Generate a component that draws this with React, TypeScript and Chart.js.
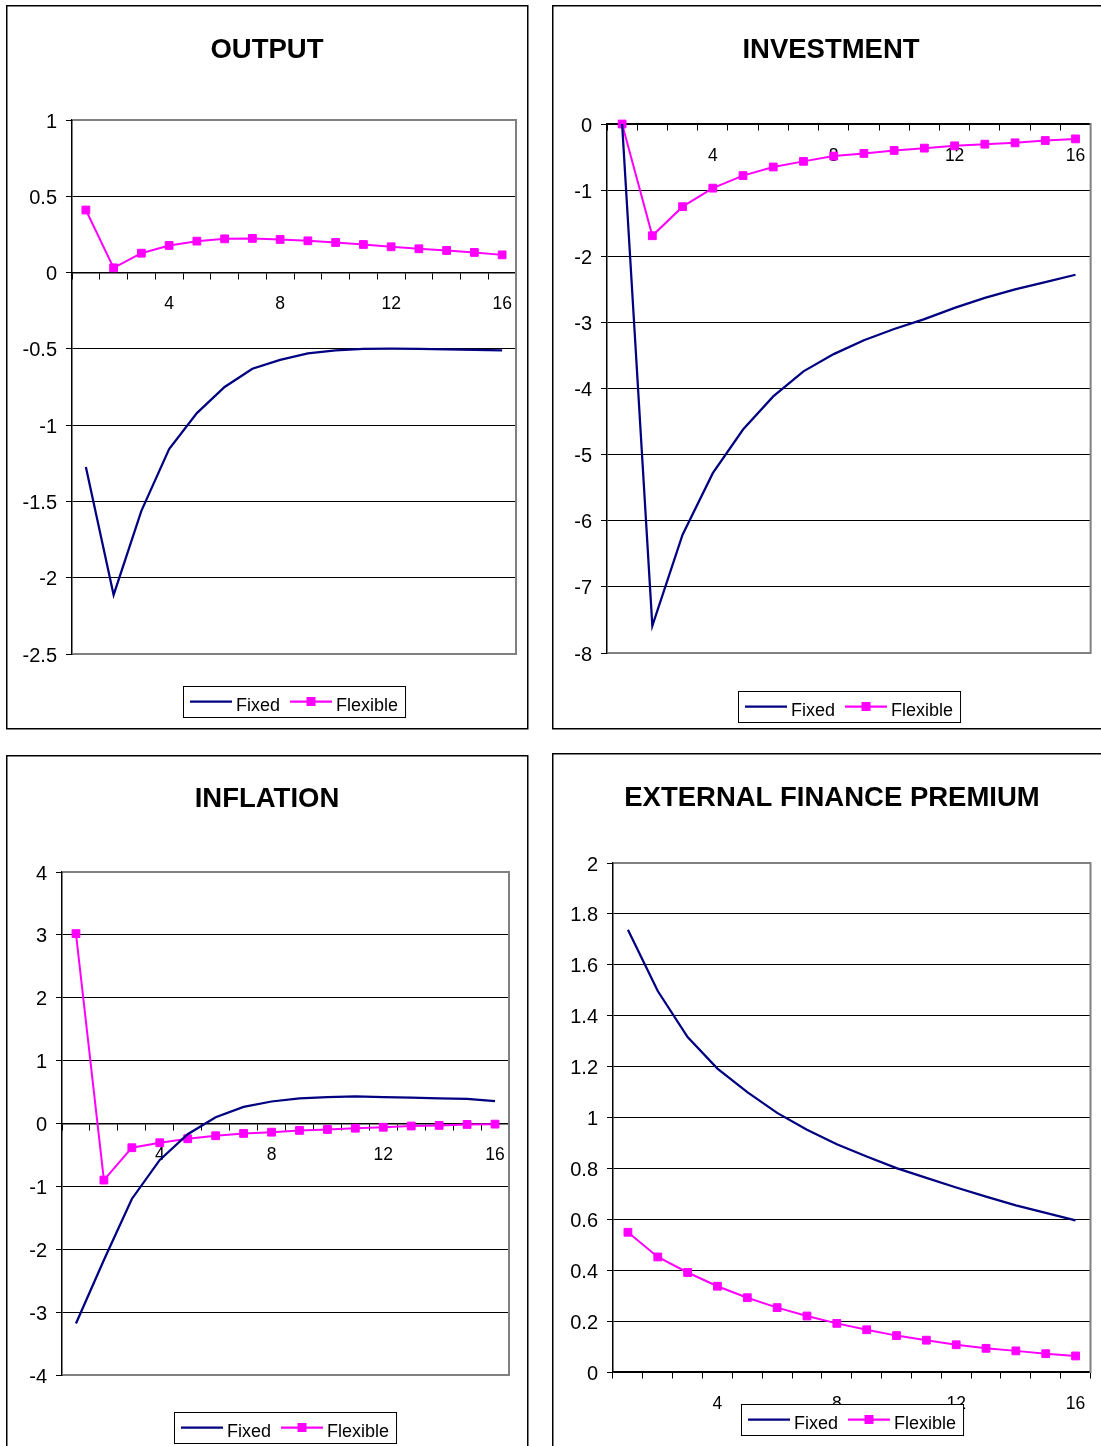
import React, { useEffect, useRef } from 'react';
import { Chart, registerables } from 'chart.js';

Chart.register(...registerables);

// ---------- data ----------
const periods = ['1', '2', '3', '4', '5', '6', '7', '8', '9', '10', '11', '12', '13', '14', '15', '16'];
const labeledPeriods = ['4', '8', '12', '16'];
const seriesNames = ['Fixed', 'Flexible'];

const outputFixed = [-1.275, -2.113, -1.562, -1.157, -0.921, -0.75, -0.63, -0.572, -0.53, -0.51, -0.5, -0.498, -0.5, -0.503, -0.507, -0.51];
const outputFlexible = [0.41, 0.031, 0.127, 0.178, 0.206, 0.221, 0.224, 0.217, 0.208, 0.197, 0.184, 0.169, 0.156, 0.145, 0.132, 0.116];

const investmentFixed = [0, -7.59, -6.21, -5.28, -4.62, -4.12, -3.74, -3.48, -3.27, -3.1, -2.95, -2.78, -2.63, -2.5, -2.39, -2.28];
const investmentFlexible = [0, -1.69, -1.25, -0.97, -0.78, -0.65, -0.565, -0.485, -0.445, -0.4, -0.365, -0.33, -0.305, -0.285, -0.25, -0.225];

const inflationFixed = [-3.18, -2.17, -1.2, -0.58, -0.17, 0.1, 0.264, 0.35, 0.4, 0.42, 0.43, 0.42, 0.41, 0.4, 0.39, 0.355];
const inflationFlexible = [3.02, -0.9, -0.385, -0.306, -0.243, -0.195, -0.158, -0.138, -0.11, -0.095, -0.075, -0.06, -0.04, -0.03, -0.015, -0.01];

const premiumFixed = [1.738, 1.497, 1.316, 1.192, 1.1, 1.018, 0.952, 0.895, 0.847, 0.801, 0.763, 0.725, 0.689, 0.655, 0.625, 0.596];
const premiumFlexible = [0.549, 0.452, 0.391, 0.337, 0.292, 0.253, 0.22, 0.191, 0.166, 0.143, 0.125, 0.107, 0.093, 0.083, 0.072, 0.063];

const outputAxis = [-2.5, 1, 0.5];
const investmentAxis = [-8, 0, 1];
const inflationAxis = [-4, 4, 1];
const premiumAxis = [0, 2, 0.2];

// ---------- layout (page pixels) ----------
type Rect = { x: number; y: number; w: number; h: number };
type Spec = {
  title: string;
  fixed: number[];
  flexible: number[];
  axis: number[];
  canvas: Rect;
  plot: { left: number; right: number; top: number; bottom: number };
  border: Rect;
  titlePos: { x: number; y: number };
  legendTop: number;
};

const FONT = '"Liberation Sans", Arial, Helvetica, sans-serif';
const NAVY = '#000080';
const MAGENTA = '#FF00FF';

const specs: Spec[] = [
  {
    title: 'OUTPUT', fixed: outputFixed, flexible: outputFlexible, axis: outputAxis,
    canvas: { x: 0, y: 0, w: 545, h: 740 },
    plot: { left: 72, right: 516, top: 120, bottom: 654 },
    border: { x: 6, y: 5, w: 521, h: 723 },
    titlePos: { x: 267, y: 50 },
    legendTop: 686,
  },
  {
    title: 'INVESTMENT', fixed: investmentFixed, flexible: investmentFlexible, axis: investmentAxis,
    canvas: { x: 545, y: 0, w: 556, h: 740 },
    plot: { left: 607, right: 1093, top: 124, bottom: 653 },
    border: { x: 552, y: 5, w: 560, h: 723 },
    titlePos: { x: 831, y: 50 },
    legendTop: 691,
  },
  {
    title: 'INFLATION', fixed: inflationFixed, flexible: inflationFlexible, axis: inflationAxis,
    canvas: { x: 0, y: 740, w: 545, h: 706 },
    plot: { left: 62, right: 509, top: 872, bottom: 1375 },
    border: { x: 6, y: 755, w: 521, h: 720 },
    titlePos: { x: 267, y: 799 },
    legendTop: 1412,
  },
  {
    title: 'EXTERNAL FINANCE PREMIUM', fixed: premiumFixed, flexible: premiumFlexible, axis: premiumAxis,
    canvas: { x: 545, y: 740, w: 556, h: 706 },
    plot: { left: 613, right: 1097, top: 863, bottom: 1372 },
    border: { x: 552, y: 753, w: 560, h: 720 },
    titlePos: { x: 832, y: 798 },
    legendTop: 1404,
  },
];

function makePlugin(spec: Spec) {
  const ox = spec.canvas.x;
  const oy = spec.canvas.y;
  return {
    id: 'excelPanel',
    beforeDraw(chart: any) {
      const ctx = chart.ctx;
      ctx.save();
      ctx.fillStyle = '#fff';
      ctx.fillRect(0, 0, chart.width, chart.height);
      ctx.strokeStyle = '#000';
      ctx.lineWidth = 1.5;
      ctx.strokeRect(spec.border.x - ox + 0.75, spec.border.y - oy + 0.75, spec.border.w, spec.border.h);
      ctx.fillStyle = '#000';
      ctx.font = `bold 27.5px ${FONT}`;
      ctx.textAlign = 'center';
      ctx.textBaseline = 'middle';
      ctx.fillText(spec.title, spec.titlePos.x - ox, spec.titlePos.y - oy);
      ctx.restore();
    },
    beforeDatasetsDraw(chart: any) {
      const ctx = chart.ctx;
      const { left, right, top, bottom } = chart.chartArea;
      const [yMin, yMax] = spec.axis;
      ctx.save();
      ctx.strokeStyle = '#808080';
      ctx.lineWidth = 2;
      ctx.beginPath();
      if (yMax !== 0) { ctx.moveTo(left + 1, top); ctx.lineTo(right, top); }
      ctx.moveTo(right, top - 1);
      ctx.lineTo(right, bottom + 1);
      if (yMin !== 0) { ctx.moveTo(left + 1, bottom); ctx.lineTo(right, bottom); }
      ctx.stroke();
      ctx.restore();
    },
    afterDraw(chart: any) {
      const ctx = chart.ctx;
      const { left, right } = chart.chartArea;
      ctx.save();
      ctx.font = `18px ${FONT}`;
      const items = chart.data.datasets.map((ds: any) => ({
        label: ds.label,
        color: ds.borderColor,
        marker: ds.pointRadius > 0,
        w: ctx.measureText(ds.label).width,
      }));
      const pad = 7, lineLen = 42, gapText = 4, gapItem = 10, h = 31;
      const total = pad * 2 + items.reduce((s: number, it: any) => s + lineLen + gapText + it.w, 0) + gapItem * (items.length - 1);
      const x0 = Math.round((left + right) / 2 - total / 2);
      const y0 = spec.legendTop - oy;
      ctx.fillStyle = '#fff';
      ctx.fillRect(x0, y0, total, h);
      ctx.strokeStyle = '#000';
      ctx.lineWidth = 1;
      ctx.strokeRect(x0 + 0.5, y0 + 0.5, total, h);
      const cy = y0 + h / 2;
      let x = x0 + pad;
      for (const it of items) {
        ctx.strokeStyle = it.color;
        ctx.lineWidth = 2.25;
        ctx.beginPath();
        ctx.moveTo(x, cy);
        ctx.lineTo(x + lineLen, cy);
        ctx.stroke();
        if (it.marker) {
          ctx.fillStyle = it.color;
          ctx.fillRect(x + lineLen / 2 - 4.5, cy - 4.5, 9, 9);
        }
        ctx.fillStyle = '#000';
        ctx.textAlign = 'left';
        ctx.textBaseline = 'alphabetic';
        ctx.fillText(it.label, x + lineLen + gapText, cy + 9);
        x += lineLen + gapText + it.w + gapItem;
      }
      ctx.restore();
    },
  };
}

function fmt(v: number) {
  return String(+Number(v).toFixed(3));
}

function Panel({ spec }: { spec: Spec }) {
  const ref = useRef<HTMLCanvasElement | null>(null);
  useEffect(() => {
    if (!ref.current) return;
    const [yMin, yMax, yStep] = spec.axis;
    const yWidth = spec.plot.left - spec.canvas.x;
    const chart = new Chart(ref.current, {
      type: 'line',
      data: {
        labels: periods,
        datasets: [
          {
            label: seriesNames[0],
            data: spec.fixed,
            borderColor: NAVY,
            backgroundColor: NAVY,
            borderWidth: 2.25,
            pointRadius: 0,
            tension: 0,
            clip: false as any,
          },
          {
            label: seriesNames[1],
            data: spec.flexible,
            borderColor: MAGENTA,
            backgroundColor: MAGENTA,
            borderWidth: 2,
            pointStyle: 'rect',
            pointRadius: 5.5,
            pointBackgroundColor: MAGENTA,
            pointBorderColor: MAGENTA,
            pointBorderWidth: 1,
            tension: 0,
            clip: false as any,
          },
        ],
      },
      options: {
        responsive: false,
        animation: false,
        devicePixelRatio: 1,
        layout: {
          padding: {
            left: 0,
            top: spec.plot.top - spec.canvas.y,
            right: spec.canvas.x + spec.canvas.w - spec.plot.right,
            bottom: spec.canvas.y + spec.canvas.h - spec.plot.bottom,
          },
        },
        plugins: {
          legend: { display: false },
          title: { display: false },
          tooltip: { enabled: false },
        },
        scales: {
          x: {
            type: 'category',
            position: { y: 0 } as any,
            offset: true,
            grid: {
              offset: true,
              drawOnChartArea: false,
              drawTicks: true,
              tickLength: 6,
              color: '#000',
              lineWidth: 1,
            },
            border: { display: true, color: '#000', width: 1.5 },
            ticks: {
              autoSkip: false,
              maxRotation: 0,
              minRotation: 0,
              padding: 15.5,
              color: '#000',
              font: { family: FONT, size: 17.5 },
              callback: (_v: any, i: number) => (labeledPeriods.includes(periods[i]) ? periods[i] : ''),
            },
          },
          y: {
            type: 'linear',
            position: 'left',
            min: yMin,
            max: yMax,
            afterFit: (scale: any) => { scale.width = yWidth; },
            grid: { color: '#000', lineWidth: 1, tickLength: 6, drawTicks: true },
            border: { display: true, color: '#000', width: 1.5 },
            ticks: {
              stepSize: yStep,
              padding: 9,
              labelOffset: 2,
              color: '#000',
              font: { family: FONT, size: 20 },
              callback: (v: any) => fmt(v),
            },
          },
        },
      },
      plugins: [makePlugin(spec)],
    } as any);
    return () => chart.destroy();
  }, [spec]);
  return (
    <canvas
      ref={ref}
      width={spec.canvas.w}
      height={spec.canvas.h}
      style={{ position: 'absolute', left: spec.canvas.x, top: spec.canvas.y, width: spec.canvas.w, height: spec.canvas.h }}
    />
  );
}

export default function App() {
  return (
    <div style={{ position: 'absolute', left: 0, top: 0, width: 1101, height: 1446, background: '#fff', overflow: 'hidden' }}>
      {specs.map((s) => (
        <Panel key={s.title} spec={s} />
      ))}
    </div>
  );
}
